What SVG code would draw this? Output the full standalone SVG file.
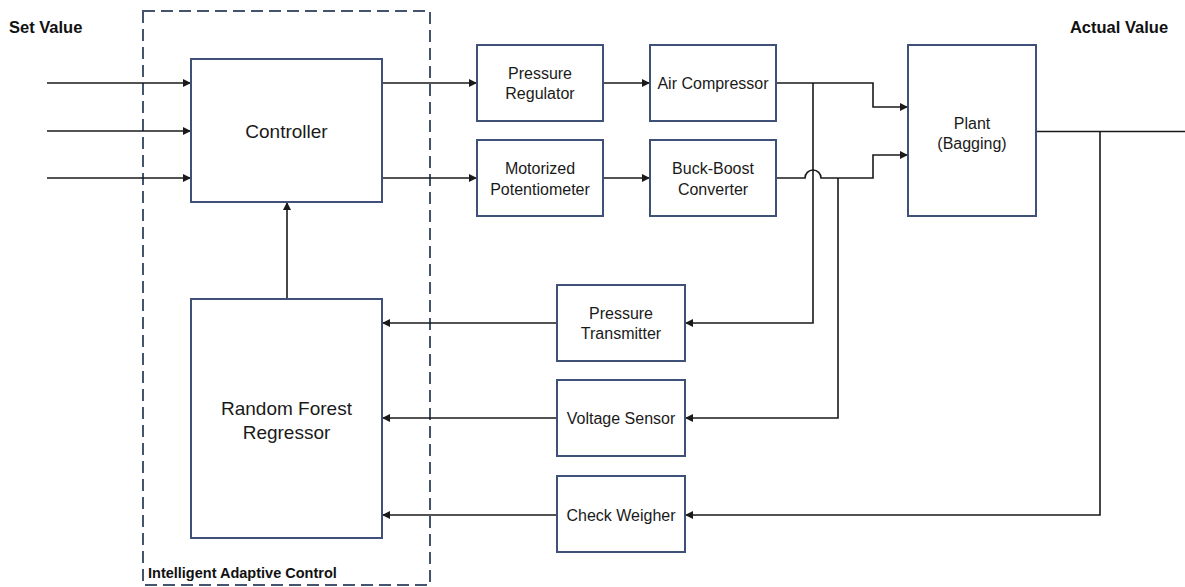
<svg xmlns="http://www.w3.org/2000/svg" width="1185" height="587" viewBox="0 0 1185 587">
<style>
.box{fill:#fff;stroke:#3f5179;stroke-width:2}
.t{font-family:"Liberation Sans",Arial,sans-serif;font-size:16px;fill:#1a1a1a;text-anchor:middle}
.big{font-size:19px}
.b{font-family:"Liberation Sans",Arial,sans-serif;font-weight:bold;fill:#111}
.ln{fill:none;stroke:#1a1a1a;stroke-width:1.6}
.ar{marker-end:url(#ah)}
</style>
<defs>
<marker id="ah" viewBox="0 0 10 10" refX="10" refY="5" markerWidth="9" markerHeight="8" markerUnits="userSpaceOnUse" orient="auto">
<path d="M0,0 L10,5 L0,10 z" fill="#1a1a1a"/>
</marker>
</defs>
<rect width="1185" height="587" fill="#fff"/>
<g id="group-iac">
<rect x="143" y="11" width="287" height="574" fill="none" stroke="#44546f" stroke-width="2" stroke-dasharray="12,6"/>
<text class="b" x="148" y="578" font-size="14.5">Intelligent Adaptive Control</text>
</g>
<g id="labels">
<text class="b" x="9" y="33" font-size="16.5">Set Value</text>
<text class="b" x="1119" y="33" font-size="16.5" text-anchor="middle">Actual Value</text>
</g>
<g id="connectors">
<path class="ln ar" d="M47,83 H191"/>
<path class="ln ar" d="M47,131 H191"/>
<path class="ln ar" d="M47,178 H191"/>
<path class="ln ar" d="M382,83 H477"/>
<path class="ln ar" d="M382,178 H477"/>
<path class="ln ar" d="M603,83 H650"/>
<path class="ln ar" d="M603,178 H650"/>
<path class="ln ar" d="M776,83 H873 V107 H908"/>
<path class="ln ar" d="M776,178 H805 A8,8 0 0 1 821,178 H873 V155 H908"/>
<path class="ln ar" d="M813,83 V323 H685"/>
<path class="ln ar" d="M838,178 V418 H685"/>
<path class="ln" d="M1036,131.5 H1185"/>
<path class="ln ar" d="M1100,131.5 V515 H685"/>
<path class="ln ar" d="M557,323 H382"/>
<path class="ln ar" d="M557,418 H382"/>
<path class="ln ar" d="M557,515 H382"/>
<path class="ln ar" d="M287,299 V202"/>
</g>
<g id="controller">
<rect class="box" x="191" y="59" width="191" height="143"/>
<text class="t big" x="286.5" y="138">Controller</text>
</g>
<g id="rfr">
<rect class="box" x="191" y="299" width="191" height="239"/>
<text class="t big" x="286.5" y="414.5">Random Forest</text>
<text class="t big" x="286.5" y="438.5">Regressor</text>
</g>
<g id="pressure-regulator">
<rect class="box" x="477" y="45" width="126" height="76"/>
<text class="t" x="540" y="79">Pressure</text>
<text class="t" x="540" y="99">Regulator</text>
</g>
<g id="air-compressor">
<rect class="box" x="650" y="45" width="126" height="76"/>
<text class="t" x="713" y="89">Air Compressor</text>
</g>
<g id="motorized-potentiometer">
<rect class="box" x="477" y="140" width="126" height="76"/>
<text class="t" x="540" y="174">Motorized</text>
<text class="t" x="540" y="194.5">Potentiometer</text>
</g>
<g id="buck-boost">
<rect class="box" x="650" y="140" width="126" height="76"/>
<text class="t" x="713" y="174">Buck-Boost</text>
<text class="t" x="713" y="194.5">Converter</text>
</g>
<g id="plant">
<rect class="box" x="908" y="45" width="128" height="171"/>
<text class="t" x="972" y="128.5">Plant</text>
<text class="t" x="972" y="149">(Bagging)</text>
</g>
<g id="pressure-transmitter">
<rect class="box" x="557" y="285" width="128" height="76"/>
<text class="t" x="621" y="319">Pressure</text>
<text class="t" x="621" y="339">Transmitter</text>
</g>
<g id="voltage-sensor">
<rect class="box" x="557" y="380" width="128" height="76"/>
<text class="t" x="621" y="424">Voltage Sensor</text>
</g>
<g id="check-weigher">
<rect class="box" x="557" y="476" width="128" height="76"/>
<text class="t" x="621" y="521">Check Weigher</text>
</g>
</svg>
